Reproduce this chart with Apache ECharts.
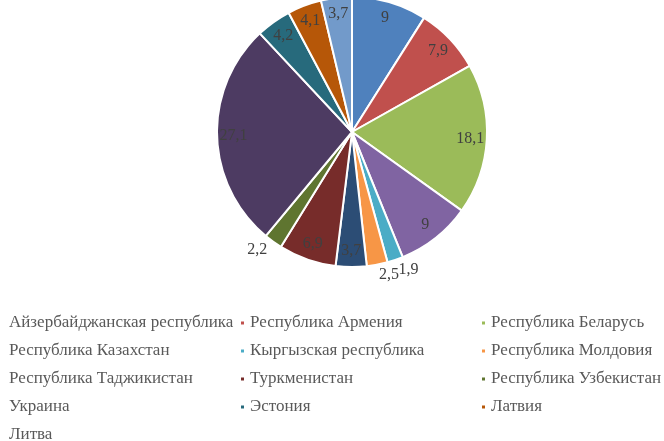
<!DOCTYPE html>
<html><head><meta charset="utf-8">
<script src="https://cdn.jsdelivr.net/npm/echarts@6/dist/echarts.min.js"></script>
<style>html,body{margin:0;padding:0;background:#fff}#c{width:664px;height:441px}</style>
</head><body><div id="c"></div>
<script>
var categories = ['Айзербайджанская республика','Республика Армения','Республика Беларусь','Республика Казахстан','Кыргызская республика','Республика Молдовия','Республика Таджикистан','Туркменистан','Республика Узбекистан','Украина','Эстония','Латвия','Литва'];
var values = [9, 7.9, 18.1, 9, 1.9, 2.5, 3.7, 6.9, 2.2, 27.1, 4.2, 4.1, 3.7];
var labels = ['9','7,9','18,1','9','1,9','2,5','3,7','6,9','2,2','27,1','4,2','4,1','3,7'];
var colors = ['#4F81BD','#C0504D','#9BBB59','#8064A2','#4BACC6','#F79646','#2C4D75','#772C2A','#5F7530','#4D3B62','#276A7C','#B65708','#729ACA'];
var outsideLabels = [4, 5, 8];
var hiddenMarkers = [0, 3, 6, 9, 12];

var chart = echarts.init(document.getElementById('c'));
var font = 'Liberation Serif';
var pieData = categories.map(function(n,i){return {name:n, value:values[i], itemStyle:{color:colors[i]}};});
var labelData = categories.map(function(n,i){
  var d = {name:n, value:values[i], itemStyle:{color:'rgba(0,0,0,0)'}};
  if (outsideLabels.indexOf(i) >= 0) {
    d.label = {position:'outside', distanceToLabelLine:0};
    d.labelLine = {show:false, length:10, length2:0};
  }
  return d;
});
var legendData = categories.map(function(n,i){
  var d = {name:n};
  if (hiddenMarkers.indexOf(i) >= 0) d.itemStyle = {opacity:0};
  return d;
});
chart.setOption({
  animation:false,
  color: colors,
  legend:{
    left:-7, top:305, width:740,
    orient:'horizontal',
    itemWidth:5, itemHeight:5, itemGap:2,
    icon:'rect',
    selectedMode:false,
    textStyle:{fontFamily:font, fontSize:17, color:'#595959', width:228, lineHeight:26, overflow:'none'},
    data: legendData
  },
  series:[
    {type:'pie', center:[352,132], radius:[0,135], startAngle:90, clockwise:true, silent:true,
     itemStyle:{borderColor:'#fff', borderWidth:2},
     label:{show:false}, labelLine:{show:false},
     data: pieData},
    {type:'pie', center:[352,132], radius:[96,135], startAngle:90, clockwise:true, silent:true,
     legendHoverLink:false, avoidLabelOverlap:false,
     labelLayout:{hideOverlap:false},
     itemStyle:{borderWidth:0},
     label:{show:true, position:'inside', fontFamily:font, fontSize:16, color:'#404040',
       formatter:function(p){return labels[p.dataIndex];}},
     labelLine:{show:false},
     data: labelData}
  ]
});
</script></body></html>
